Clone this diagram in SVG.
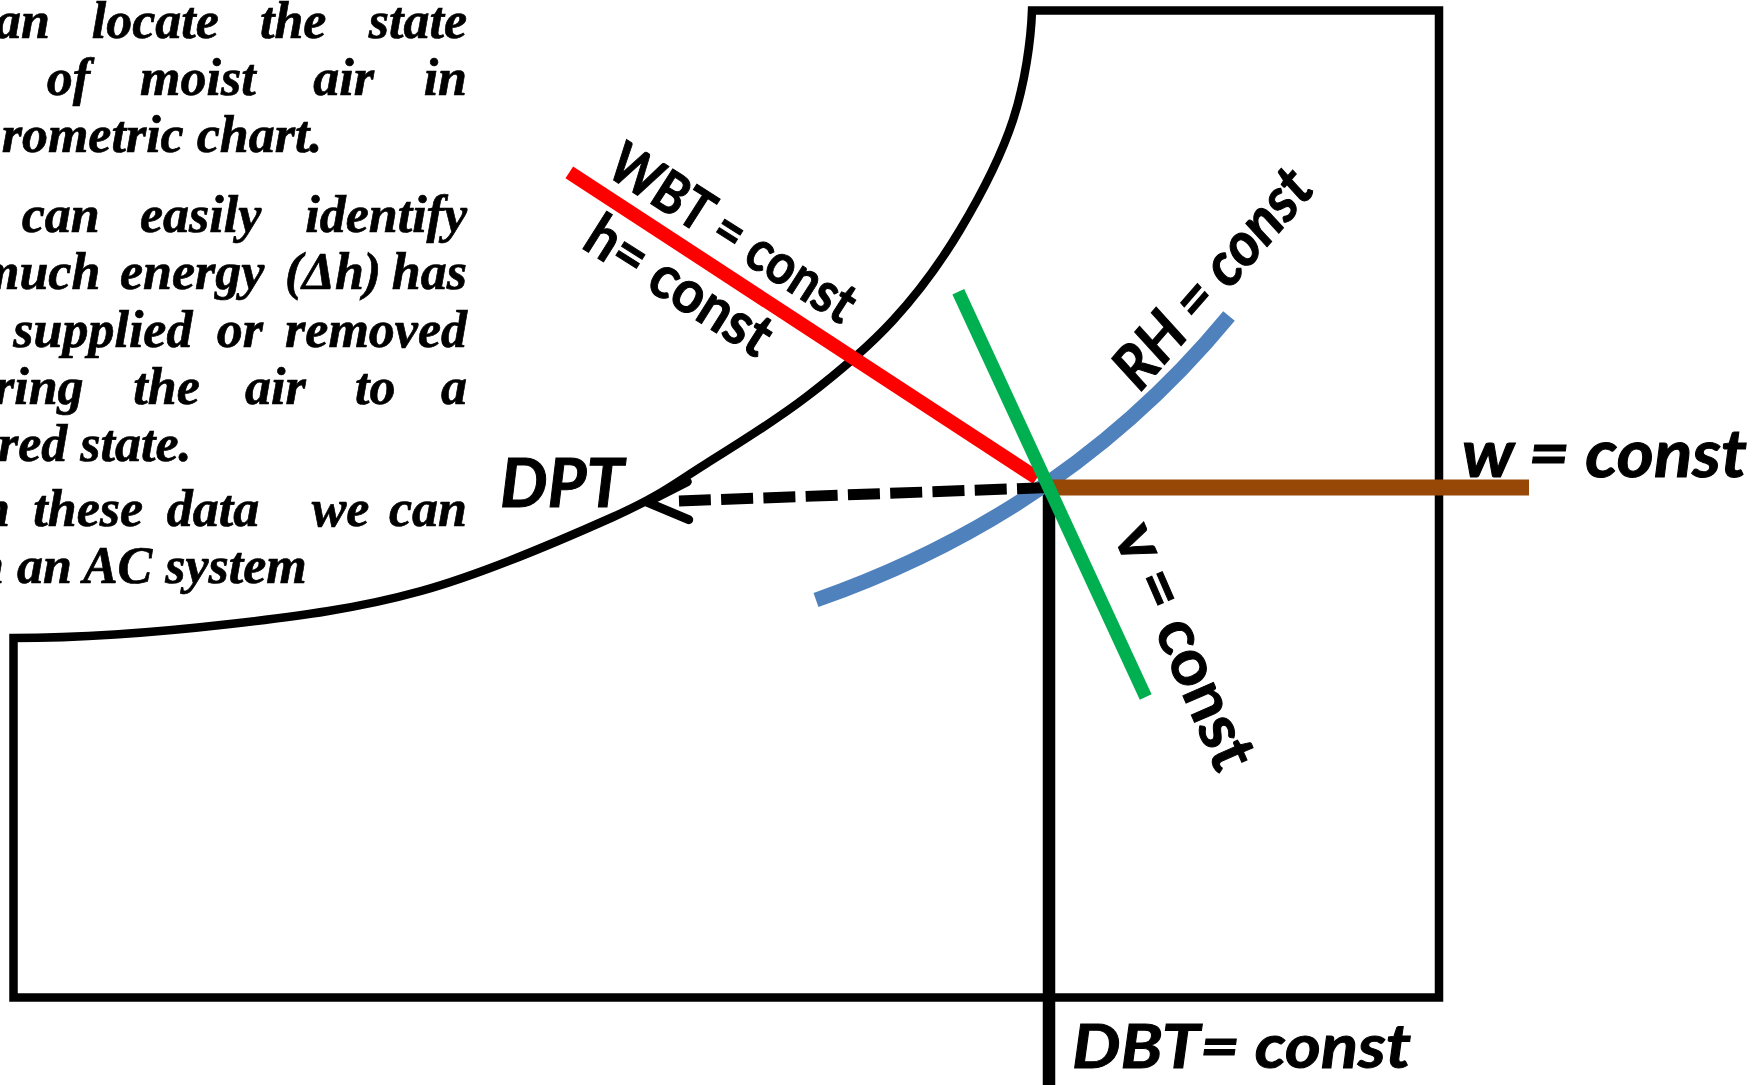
<svg xmlns="http://www.w3.org/2000/svg" width="1754" height="1085" viewBox="0 0 1754 1085">
<style>
.para{font-family:"Liberation Serif","Times New Roman",serif;font-weight:bold;font-style:italic;font-size:52px;fill:#000;stroke:#000;stroke-width:0.7}
.lbl{font-family:Lato,"Open Sans",sans-serif;font-weight:bold;fill:#000;stroke:#000;stroke-width:1}
.it{font-style:italic}
.edge{fill:none;stroke:#000;stroke-width:8.5;stroke-linejoin:miter}
.prop{fill:none;stroke-linecap:butt}
</style>
<defs>
<marker id="openArrow" markerUnits="userSpaceOnUse" viewBox="-20 -30 70 60" markerWidth="70" markerHeight="60" refX="0" refY="0" orient="auto">
<path d="M-9,-19 L32,0 L-9,19" fill="none" stroke="#000" stroke-width="9" stroke-linecap="round" stroke-linejoin="miter"/>
</marker>
</defs>
<rect width="1754" height="1085" fill="#fff"/>

<g id="description" class="para">
<text y="37.5"><tspan x="-5">an</tspan><tspan x="91.7">locate</tspan><tspan x="260">the</tspan><tspan x="467" text-anchor="end">state</tspan></text>
<text y="95"><tspan x="46.7">of</tspan><tspan x="140">moist</tspan><tspan x="313.3">air</tspan><tspan x="467" text-anchor="end">in</tspan></text>
<text x="1.7" y="152">rometric chart.</text>
<text y="232"><tspan x="21.7">can</tspan><tspan x="140">easily</tspan><tspan x="467" text-anchor="end">identify</tspan></text>
<text y="289"><tspan x="-21">much</tspan><tspan x="120">energy</tspan><tspan x="285">(Δh)</tspan><tspan x="467" text-anchor="end">has</tspan></text>
<text y="347"><tspan x="13.3">supplied</tspan><tspan x="216.7">or</tspan><tspan x="467" text-anchor="end">removed</tspan></text>
<text y="404"><tspan x="-6">ring</tspan><tspan x="133.3">the</tspan><tspan x="245">air</tspan><tspan x="355">to</tspan><tspan x="467" text-anchor="end">a</tspan></text>
<text x="-2" y="461">red state.</text>
<text y="526"><tspan x="-19">n</tspan><tspan x="33.3">these</tspan><tspan x="166.7">data</tspan><tspan x="311.7">we</tspan><tspan x="467" text-anchor="end">can</tspan></text>
<text x="-25" y="583">n an AC system</text>
</g>

<g id="chart-boundary">
<path class="edge" d="M13.5,997.5 L13.5,638 C83.5,638 162.1,631.8 230,624 C297.9,616.2 357.2,608.8 421,591 C484.8,573.2 565.4,538.3 613,517 C660.6,495.7 674.4,483.35 706.7,463.3 C739,443.25 775.6,420.6 806.7,396.7 C837.8,372.8 867.75,347.8 893.3,320 C918.85,292.2 940.05,263.3 960,230 C979.95,196.7 1001,156.6 1013,120 C1025,83.4 1031,40 1032,10.5 L1439,10.5 L1439,997.5 Z"/>
</g>

<g id="dbt-line">
<line x1="1049" y1="487" x2="1049" y2="1085" stroke="#000" stroke-width="12.5"/>
</g>

<g id="wbt-line">
<line class="prop" x1="569.3" y1="172.3" x2="1037" y2="478" stroke="#FF0000" stroke-width="14"/>
</g>

<g id="rh-line">
<path class="prop" d="M816,600 Q1067.5,512 1229,316" stroke="#4F81BD" stroke-width="15"/>
</g>

<g id="connectors">
<path id="dpt-connector" d="M1049,487.5 L679,501" fill="none" stroke="#000" stroke-width="11" stroke-dasharray="32 10.3" marker-end="url(#openArrow)"/>
</g>

<g id="w-line">
<line class="prop" x1="1049" y1="487.5" x2="1529" y2="487.5" stroke="#974706" stroke-width="16"/>
</g>

<g id="v-line">
<line class="prop" x1="958.3" y1="291.7" x2="1145.7" y2="697" stroke="#00B050" stroke-width="13"/>
</g>

<g id="label-wbt"><text class="lbl" font-size="57" transform="translate(604,174) rotate(32.5)" textLength="281" lengthAdjust="spacingAndGlyphs">WBT = const</text></g>
<g id="label-h"><text class="lbl" font-size="60" transform="translate(580,247) rotate(32.3)" textLength="209" lengthAdjust="spacingAndGlyphs">h= const</text></g>
<g id="label-rh"><text class="lbl it" font-size="61" transform="translate(1140,393) rotate(-49)" textLength="269" lengthAdjust="spacingAndGlyphs">RH = const</text></g>
<g id="label-v"><text class="lbl" font-size="65" transform="translate(1113,535) rotate(66.5)" textLength="261" lengthAdjust="spacingAndGlyphs">v = const</text></g>
<g id="label-dpt"><text class="lbl it" font-size="66" x="500" y="506.5" textLength="124" lengthAdjust="spacingAndGlyphs">DPT</text></g>
<g id="label-w"><text class="lbl it" font-size="66" x="1462" y="477" textLength="285" lengthAdjust="spacingAndGlyphs">w = const</text></g>
<g id="label-dbt"><text class="lbl it" font-size="62" x="1072" y="1068" textLength="339" lengthAdjust="spacingAndGlyphs">DBT= const</text></g>
</svg>
